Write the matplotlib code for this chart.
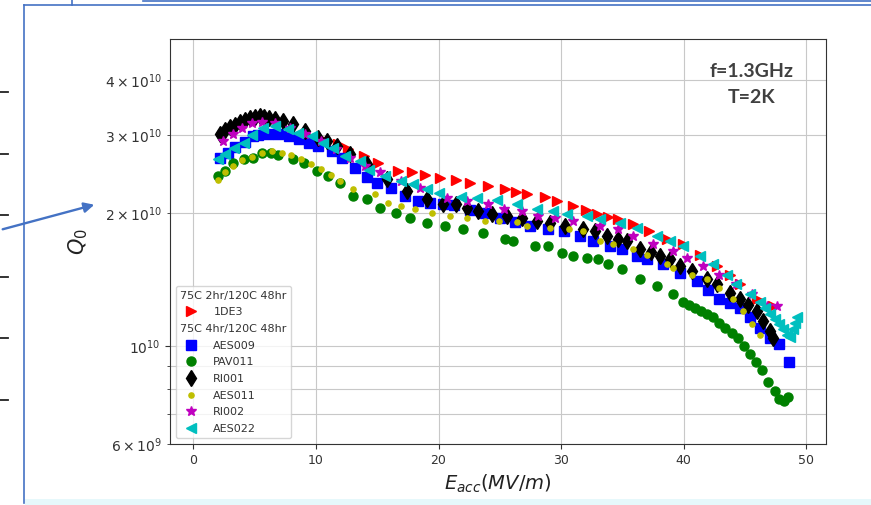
import numpy as np
import matplotlib
matplotlib.use("Agg")
import matplotlib.pyplot as plt
from matplotlib.lines import Line2D
from matplotlib.patches import FancyArrowPatch, Rectangle

# Q0 values are in units of 1e10, Eacc in MV/m
e_1de3 = [9.6, 10.7, 11.8, 12.6, 13.9, 15.1, 16.7, 17.8, 18.9, 20.1, 21.4, 22.6, 24.0, 25.4, 26.3,
          27.2, 28.7, 29.7, 31.0, 32.0, 32.9, 33.8, 34.6, 35.9, 37.2, 38.6, 39.9, 41.3, 42.7, 43.8,
          44.6, 46.0, 47.3]
q_1de3 = [2.97, 2.92, 2.87, 2.79, 2.69, 2.59, 2.49, 2.47, 2.44, 2.40, 2.38, 2.34, 2.30, 2.26, 2.23,
          2.21, 2.17, 2.13, 2.07, 2.03, 1.99, 1.96, 1.94, 1.89, 1.82, 1.75, 1.70, 1.61, 1.52, 1.45,
          1.38, 1.28, 1.23]

e_aes009 = [2.2, 2.8, 3.4, 4.2, 4.9, 5.3, 6.1, 6.9, 7.8, 8.6, 9.4, 10.2, 11.3, 12.1, 13.2, 14.2,
            15.0, 16.1, 17.3, 18.3, 19.3, 20.4, 21.3, 22.6, 23.8, 25.0, 26.2, 27.5, 28.9, 30.2,
            31.5, 32.6, 34.0, 35.0, 36.2, 37.0, 38.3, 39.7, 41.1, 42.0, 42.9, 43.8, 44.6, 45.4,
            46.2, 47.0, 47.8, 48.6]
q_aes009 = [2.66, 2.74, 2.82, 2.90, 2.98, 3.00, 3.01, 3.02, 2.99, 2.94, 2.88, 2.84, 2.76, 2.66,
            2.53, 2.41, 2.34, 2.28, 2.18, 2.13, 2.11, 2.09, 2.08, 2.03, 2.00, 1.95, 1.91, 1.87,
            1.84, 1.82, 1.77, 1.73, 1.68, 1.66, 1.60, 1.57, 1.53, 1.46, 1.40, 1.34, 1.28, 1.25,
            1.22, 1.16, 1.10, 1.04, 1.01, 0.92]

e_pav011 = [2.0, 2.6, 3.2, 4.1, 4.9, 5.6, 6.3, 6.9, 8.1, 9.0, 10.1, 11.0, 12.0, 13.0, 14.2, 15.2,
            16.5, 17.7, 19.1, 20.5, 22.0, 23.6, 25.4, 26.1, 27.9, 28.9, 30.1, 31.0, 32.1, 33.0,
            33.8, 35.0, 36.4, 37.8, 39.1, 39.9, 40.4, 40.9, 41.4, 41.9, 42.4, 42.9, 43.4, 43.9,
            44.4, 44.9, 45.4, 45.9, 46.4, 46.9, 47.4, 47.8, 48.2, 48.5]
q_pav011 = [2.42, 2.49, 2.59, 2.65, 2.66, 2.73, 2.73, 2.71, 2.65, 2.59, 2.49, 2.42, 2.34, 2.18,
            2.15, 2.05, 2.00, 1.95, 1.90, 1.87, 1.84, 1.80, 1.75, 1.73, 1.68, 1.68, 1.62, 1.60,
            1.58, 1.57, 1.53, 1.49, 1.42, 1.37, 1.31, 1.26, 1.24, 1.22, 1.20, 1.18, 1.16, 1.13,
            1.10, 1.07, 1.04, 1.00, 0.96, 0.92, 0.88, 0.83, 0.79, 0.76, 0.75, 0.765]

e_ri001 = [2.2, 2.6, 3.0, 3.4, 3.8, 4.2, 4.6, 5.0, 5.4, 5.8, 6.2, 6.7, 7.3, 8.1, 9.1, 10.2, 10.9,
           11.7, 12.8, 14.2, 15.8, 17.4, 19.1, 20.4, 21.4, 22.3, 23.2, 24.4, 25.6, 26.8, 28.0,
           29.1, 30.3, 31.8, 32.8, 33.7, 34.6, 35.4, 36.4, 37.3, 38.1, 38.9, 39.7, 40.7, 41.9,
           42.7, 43.8, 44.6, 45.2, 46.0, 46.5, 47.0, 47.3]
q_ri001 = [3.02, 3.08, 3.13, 3.17, 3.21, 3.25, 3.28, 3.30, 3.31, 3.30, 3.28, 3.26, 3.23, 3.18,
           3.07, 2.95, 2.91, 2.83, 2.72, 2.58, 2.39, 2.24, 2.15, 2.09, 2.09, 2.05, 2.02, 1.99,
           1.97, 1.95, 1.92, 1.90, 1.87, 1.84, 1.82, 1.77, 1.75, 1.73, 1.66, 1.63, 1.60, 1.57,
           1.52, 1.48, 1.42, 1.38, 1.32, 1.28, 1.24, 1.20, 1.14, 1.08, 1.04]

e_aes011 = [2.0, 2.6, 3.2, 4.0, 4.8, 5.6, 6.4, 7.2, 8.0, 8.8, 9.6, 10.4, 11.2, 12.0, 13.0, 14.8,
            15.9, 16.9, 18.1, 19.5, 20.9, 22.3, 23.8, 24.9, 26.4, 27.2, 29.1, 30.6, 31.8, 33.2,
            34.2, 35.9, 37.0, 38.6, 39.1, 40.7, 41.9, 42.9, 44.0, 44.8, 45.6, 46.2]
q_aes011 = [2.38, 2.47, 2.56, 2.63, 2.68, 2.74, 2.76, 2.74, 2.70, 2.65, 2.58, 2.51, 2.44, 2.36,
            2.27, 2.21, 2.11, 2.07, 2.04, 2.00, 1.97, 1.95, 1.92, 1.92, 1.91, 1.87, 1.85, 1.84,
            1.82, 1.73, 1.70, 1.66, 1.61, 1.53, 1.50, 1.45, 1.42, 1.35, 1.28, 1.20, 1.12, 1.06]

e_ri002 = [2.4, 3.2, 4.0, 4.8, 5.6, 6.7, 7.9, 9.1, 10.4, 11.6, 12.8, 14.0, 15.2, 16.9, 18.5, 20.7,
           22.3, 24.0, 25.3, 26.8, 28.1, 29.5, 31.0, 33.2, 34.6, 35.9, 37.5, 39.1, 40.3, 41.6,
           42.9, 44.3, 45.6, 46.8, 47.6]
q_ri002 = [2.91, 3.02, 3.11, 3.19, 3.22, 3.19, 3.11, 3.02, 2.91, 2.79, 2.66, 2.56, 2.47, 2.36,
           2.28, 2.16, 2.13, 2.09, 2.04, 2.02, 1.97, 1.95, 1.92, 1.87, 1.84, 1.77, 1.70, 1.64,
           1.58, 1.52, 1.45, 1.38, 1.31, 1.23, 1.23]

e_aes022 = [2.0, 2.6, 3.3, 4.1, 4.8, 5.7, 6.7, 7.7, 8.5, 9.7, 10.6, 11.4, 12.4, 13.6, 14.3, 15.6,
            16.9, 17.9, 19.1, 20.0, 21.8, 23.1, 24.8, 26.4, 28.0, 29.3, 30.5, 32.1, 33.2, 34.8,
            36.2, 37.8, 38.9, 39.9, 41.3, 42.4, 43.5, 44.3, 45.4, 46.2, 46.6, 47.0, 47.4, 47.8,
            48.1, 48.4, 48.7, 48.9, 49.1, 49.2]
q_aes022 = [2.65, 2.72, 2.81, 2.88, 3.00, 3.11, 3.14, 3.09, 3.03, 2.98, 2.88, 2.81, 2.69, 2.62,
            2.50, 2.42, 2.36, 2.32, 2.27, 2.22, 2.17, 2.16, 2.14, 2.09, 2.04, 2.02, 1.99, 1.97,
            1.94, 1.90, 1.85, 1.77, 1.73, 1.68, 1.60, 1.53, 1.45, 1.38, 1.31, 1.26, 1.22, 1.18,
            1.15, 1.12, 1.09, 1.06, 1.05, 1.09, 1.13, 1.16]

header_1 = "75C 2hr/120C 48hr"
header_2 = "75C 4hr/120C 48hr"

series = [
    ("1DE3", e_1de3, q_1de3, "r", ">", 7.5),
    ("AES009", e_aes009, q_aes009, "b", "s", 6.5),
    ("PAV011", e_pav011, q_pav011, "g", "o", 6.5),
    ("RI001", e_ri001, q_ri001, "k", "d", 8),
    ("AES011", e_aes011, q_aes011, "y", ".", 7.5),
    ("RI002", e_ri002, q_ri002, "m", "*", 7.5),
    ("AES022", e_aes022, q_aes022, "c", "<", 7.5),
]

W, H = 871, 505
fig = plt.figure(figsize=(W / 100, H / 100), dpi=100)
ax = fig.add_axes([170 / W, 1 - 444 / H, 656 / W, 405 / H])

lines = {}
for name, e, q, col, mk, ms in series:
    lines[name], = ax.plot(e, np.array(q) * 1e10, linestyle="none", marker=mk,
                           color=col, markersize=ms, label=name)

ax.set_yscale("log")
ax.set_xlim(-1.9, 51.6)
ax.set_ylim(6e9, 4.95e10)
ax.set_xticks([0, 10, 20, 30, 40, 50])
ax.grid(True, which="major", axis="x", color="#c8c8c8")
ax.grid(True, which="both", axis="y", color="#c8c8c8")
ax.tick_params(axis="x", which="both", labelsize=9, colors="#333333")
ax.tick_params(axis="y", which="both", labelsize=10, colors="#333333")
for sp in ax.spines.values():
    sp.set_color("#333333")

ax.set_xlabel(r"$E_{acc}(MV/m)$", fontsize=14, color="#222222")
ax.set_ylabel(r"$Q_0$", fontsize=15, color="#222222", labelpad=11)

ax.text(0.886, 0.888, "f=1.3GHz\nT=2K", transform=ax.transAxes, ha="center", va="center",
        ma="center", fontsize=14, fontweight="bold", family=["Lato", "DejaVu Sans"],
        color="#404040", linespacing=1.6)

# legend with two group headings (no marker)
blank_1 = Line2D([], [], linestyle="none")
blank_2 = Line2D([], [], linestyle="none")
handles = [blank_1, lines["1DE3"], blank_2] + [lines[s[0]] for s in series[1:]]
labels = [header_1, "1DE3", header_2] + [s[0] for s in series[1:]]
leg = ax.legend(handles, labels, loc="lower left", fontsize=8, labelspacing=0.6,
                handletextpad=1.0, borderpad=0.4)
for t in leg.get_texts():
    t.set_color("#333333")
for col in leg._legend_handle_box.get_children():
    for row in col.get_children():
        kids = row.get_children()
        if kids[1].get_text() in (header_1, header_2):
            kids[0].width = 0
            row.sep = 0


# slide decorations around the picture
def fx(px):
    return px / W


def fy(py):
    return 1 - py / H


blue = "#4472c4"
fig.add_artist(Rectangle((fx(25), 0), 1 - fx(25), 6 / H, transform=fig.transFigure,
                         facecolor="#e6f8fb", edgecolor="none", zorder=0))
fig.add_artist(Line2D([fx(24), fx(24)], [fy(5), fy(503)], transform=fig.transFigure,
                      color=blue, lw=1.2))
fig.add_artist(Line2D([fx(24), 1], [fy(5), fy(5)], transform=fig.transFigure, color=blue, lw=1.2))
fig.add_artist(Line2D([fx(143), 1], [fy(1), fy(1)], transform=fig.transFigure, color=blue, lw=1.2))
fig.add_artist(Line2D([fx(72), fx(72)], [fy(0), fy(5)], transform=fig.transFigure, color=blue, lw=1.2))
for yy in [92, 154, 215, 277, 338, 400]:
    fig.add_artist(Line2D([0, fx(8)], [fy(yy), fy(yy)], transform=fig.transFigure,
                          color="#222222", lw=1.3))
fig.add_artist(FancyArrowPatch((fx(0), fy(230)), (fx(97), fy(204)), transform=fig.transFigure,
                               arrowstyle="-|>", mutation_scale=15, color=blue, lw=1.7))

fig.savefig("out.png", dpi=100)
